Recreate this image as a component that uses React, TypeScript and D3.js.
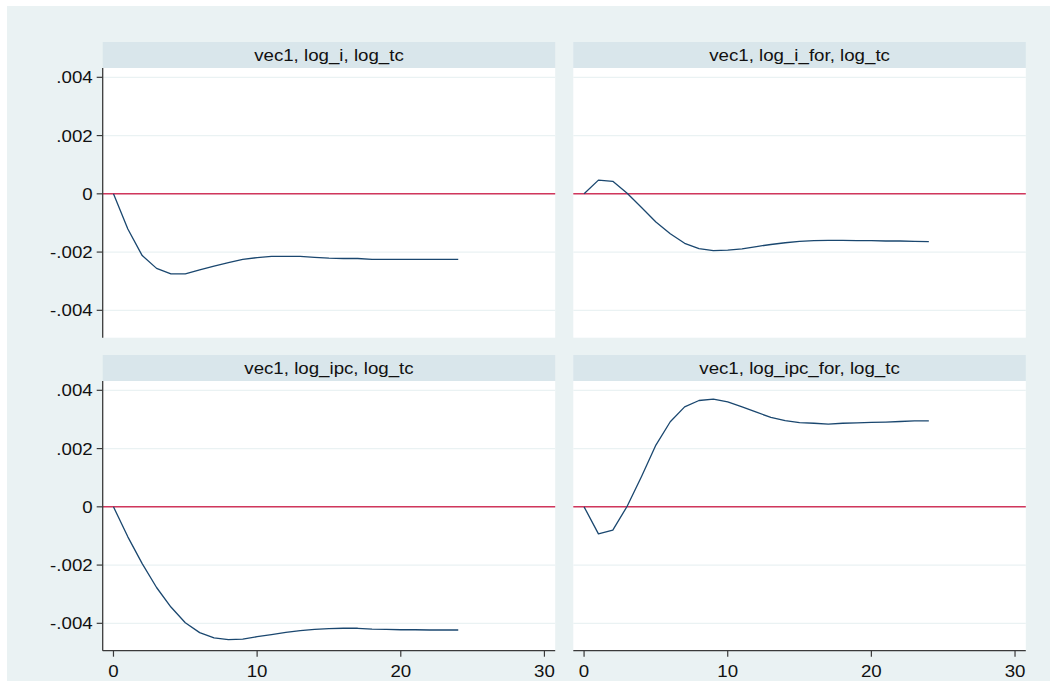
import * as d3 from "d3";

const steps = [0, 1, 2, 3, 4, 5, 6, 7, 8, 9, 10, 11, 12, 13, 14, 15, 16, 17, 18, 19, 20, 21, 22, 23, 24];

const logI = [
  0, -0.00121, -0.00212, -0.00256, -0.00275, -0.00275, -0.00261, -0.00248, -0.00236, -0.00225,
  -0.00219, -0.00215, -0.00215, -0.00215, -0.00218, -0.00221, -0.00222, -0.00222, -0.00225,
  -0.00225, -0.00225, -0.00225, -0.00225, -0.00225, -0.00225,
];
const logIFor = [
  0, 0.00047, 0.00043, 0.00002, -0.00047, -0.00097, -0.00137, -0.0017, -0.00188, -0.00195,
  -0.00193, -0.00189, -0.00181, -0.00174, -0.00168, -0.00163, -0.00161, -0.0016, -0.0016,
  -0.00161, -0.00161, -0.00162, -0.00162, -0.00163, -0.00164,
];
const logIpc = [
  0, -0.00103, -0.00195, -0.00277, -0.00344, -0.00398, -0.00432, -0.0045, -0.00456, -0.00454,
  -0.00446, -0.00439, -0.00431, -0.00425, -0.00421, -0.00418, -0.00417, -0.00417, -0.0042,
  -0.00421, -0.00422, -0.00422, -0.00423, -0.00423, -0.00423,
];
const logIpcFor = [
  0, -0.00093, -0.0008, 0.00002, 0.00104, 0.00212, 0.00292, 0.00343, 0.00365, 0.0037,
  0.0036, 0.00343, 0.00325, 0.00307, 0.00296, 0.00289, 0.00287, 0.00284, 0.00287,
  0.00288, 0.0029, 0.00291, 0.00293, 0.00295, 0.00295,
];

const panelTitles = [
  "vec1, log_i, log_tc",
  "vec1, log_i_for, log_tc",
  "vec1, log_ipc, log_tc",
  "vec1, log_ipc_for, log_tc",
];
const yTicks = [0.004, 0.002, 0, -0.002, -0.004];
const yTickLabels = [".004", ".002", "0", "-.002", "-.004"];
const xTicks = [0, 10, 20, 30];
const xTickLabels = ["0", "10", "20", "30"];

const series = [logI, logIFor, logIpc, logIpcFor];

const W = 1050;
const H = 683;
const panelW = 452.5;
const plotH = 269.7;
const headerH = 26;
const colX = [102.7, 573.3];
const rowY = [68, 381];

const bg = "#eaf2f3";
const headerFill = "#d9e6eb";
const gridColor = "#eaf2f3";
const lineColor = "#1a476f";
const zeroColor = "#d1365c";
const axisColor = "#3a3a3a";
const font = "'Liberation Sans', Arial, Helvetica, sans-serif";

// Stata's text is a touch wider than Liberation Sans at the same height
function Label({ x, y, anchor, children }: { x: number; y: number; anchor: string; children: string }) {
  return (
    <text
      transform={`translate(${x},${y}) scale(1.1,1)`}
      dy="0.36em"
      textAnchor={anchor}
      fontSize={17}
      fill="#111"
      fontFamily={font}
    >
      {children}
    </text>
  );
}

function Panel({ idx }: { idx: number }) {
  const col = idx % 2;
  const row = Math.floor(idx / 2);
  const left = colX[col];
  const top = rowY[row];

  const x = d3.scaleLinear().domain([-0.75, 30.75]).range([left, left + panelW]);
  const y = d3.scaleLinear().domain([-0.00494, 0.00432]).range([top + plotH, top]);

  const line = d3
    .line<number>()
    .x((_, i) => x(steps[i]))
    .y((d) => y(d));

  return (
    <g>
      <rect x={left} y={top - headerH} width={panelW} height={headerH} fill={headerFill} />
      <Label x={left + panelW / 2} y={top - headerH / 2} anchor="middle">
        {panelTitles[idx]}
      </Label>
      <rect x={left} y={top} width={panelW} height={plotH} fill="#fff" />
      {yTicks.map((t) => (
        <line key={t} x1={left} x2={left + panelW} y1={y(t)} y2={y(t)} stroke={gridColor} strokeWidth={1.2} />
      ))}
      <line x1={left} x2={left + panelW} y1={y(0)} y2={y(0)} stroke={zeroColor} strokeWidth={1.6} />
      <path d={line(series[idx]) || ""} fill="none" stroke={lineColor} strokeWidth={1.3} strokeLinejoin="round" />
      {col === 0 && (
        <g>
          <line x1={left} x2={left} y1={top} y2={top + plotH} stroke={axisColor} strokeWidth={1.3} />
          {yTicks.map((t, i) => (
            <g key={t}>
              <line x1={left - 6} x2={left} y1={y(t)} y2={y(t)} stroke={axisColor} strokeWidth={1.2} />
              <Label x={left - 10} y={y(t)} anchor="end">
                {yTickLabels[i]}
              </Label>
            </g>
          ))}
        </g>
      )}
      {row === 1 && (
        <g>
          <line x1={left} x2={left + panelW} y1={top + plotH} y2={top + plotH} stroke={axisColor} strokeWidth={1.3} />
          {xTicks.map((t, i) => (
            <g key={t}>
              <line x1={x(t)} x2={x(t)} y1={top + plotH} y2={top + plotH + 6} stroke={axisColor} strokeWidth={1.2} />
              <Label x={x(t)} y={top + plotH + 20} anchor="middle">
                {xTickLabels[i]}
              </Label>
            </g>
          ))}
        </g>
      )}
    </g>
  );
}

export default function App() {
  return (
    <svg width={W} height={H} style={{ position: "absolute", left: 0, top: 0 }}>
      <rect x={0} y={0} width={W} height={H} fill="#fff" />
      <rect x={7} y={6} width={W - 7} height={675} fill={bg} />
      {[0, 1, 2, 3].map((i) => (
        <Panel key={i} idx={i} />
      ))}
    </svg>
  );
}
